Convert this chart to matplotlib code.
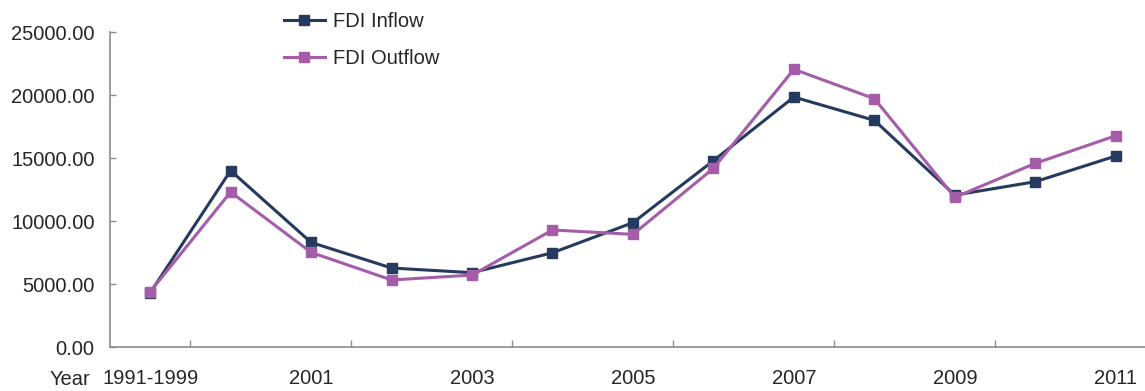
import matplotlib.pyplot as plt
import numpy as np

plt.rcParams['font.family'] = ['Liberation Sans', 'DejaVu Sans']

# data
years = ["1991-1999", "2000", "2001", "2002", "2003", "2004", "2005",
         "2006", "2007", "2008", "2009", "2010", "2011"]
fdi_inflow = [4300, 14000, 8300, 6270, 5900, 7480, 9870,
              14790, 19840, 17990, 12060, 13120, 15160]
fdi_outflow = [4390, 12300, 7510, 5320, 5710, 9290, 8940,
               14180, 22040, 19710, 11880, 14580, 16770]

c_in = "#253a5e"
c_out = "#a55ca9"
c_axis = "#8c8c8c"
c_text = "#262626"
fs = 14.5

fig = plt.figure(figsize=(11.45, 3.91), dpi=100)
ax = fig.add_axes([0.096, 0.1125, 0.9136, 0.8056])

x = np.arange(len(years))
ax.plot(x, fdi_inflow, color=c_in, linewidth=2.2, marker="s", markersize=6.5, label="FDI Inflow")
ax.plot(x, fdi_outflow, color=c_out, linewidth=2.2, marker="s", markersize=6.5, label="FDI Outflow")

ax.set_xlim(-0.5, len(years) - 0.5)
ax.set_ylim(0, 25000)
ax.set_yticks(np.arange(0, 25001, 5000))
ax.set_yticklabels(["%.2f" % v for v in np.arange(0, 25001, 5000)])

# tick marks between categories, labels at every other category
ax.set_xticks(np.arange(0.5, len(years) - 1, 2))
ax.set_xticklabels([])
ax.set_xticks(x[::2], minor=True)
ax.set_xticklabels(years[::2], minor=True)
ax.tick_params(axis="x", which="major", direction="in", length=5, color=c_axis, width=1)
ax.tick_params(axis="x", which="minor", length=0, pad=16, labelsize=fs, labelcolor=c_text)
ax.tick_params(axis="y", direction="in", length=4, color=c_axis, width=1, pad=11,
               labelsize=fs, labelcolor=c_text)

for s in ["top", "right"]:
    ax.spines[s].set_visible(False)
for s in ["left", "bottom"]:
    ax.spines[s].set_color(c_axis)
    ax.spines[s].set_linewidth(1.2)

ax.text(-0.019, -0.072, "Year", transform=ax.transAxes, fontsize=fs, color=c_text,
        ha="right", va="top")

leg = fig.legend(loc="upper left", bbox_to_anchor=(0.2325, 1.016), frameon=False,
                 fontsize=fs, handlelength=2.0, labelspacing=0.9, handletextpad=0.4)
for t in leg.get_texts():
    t.set_color(c_text)

fig.savefig("out.png", dpi=100)
